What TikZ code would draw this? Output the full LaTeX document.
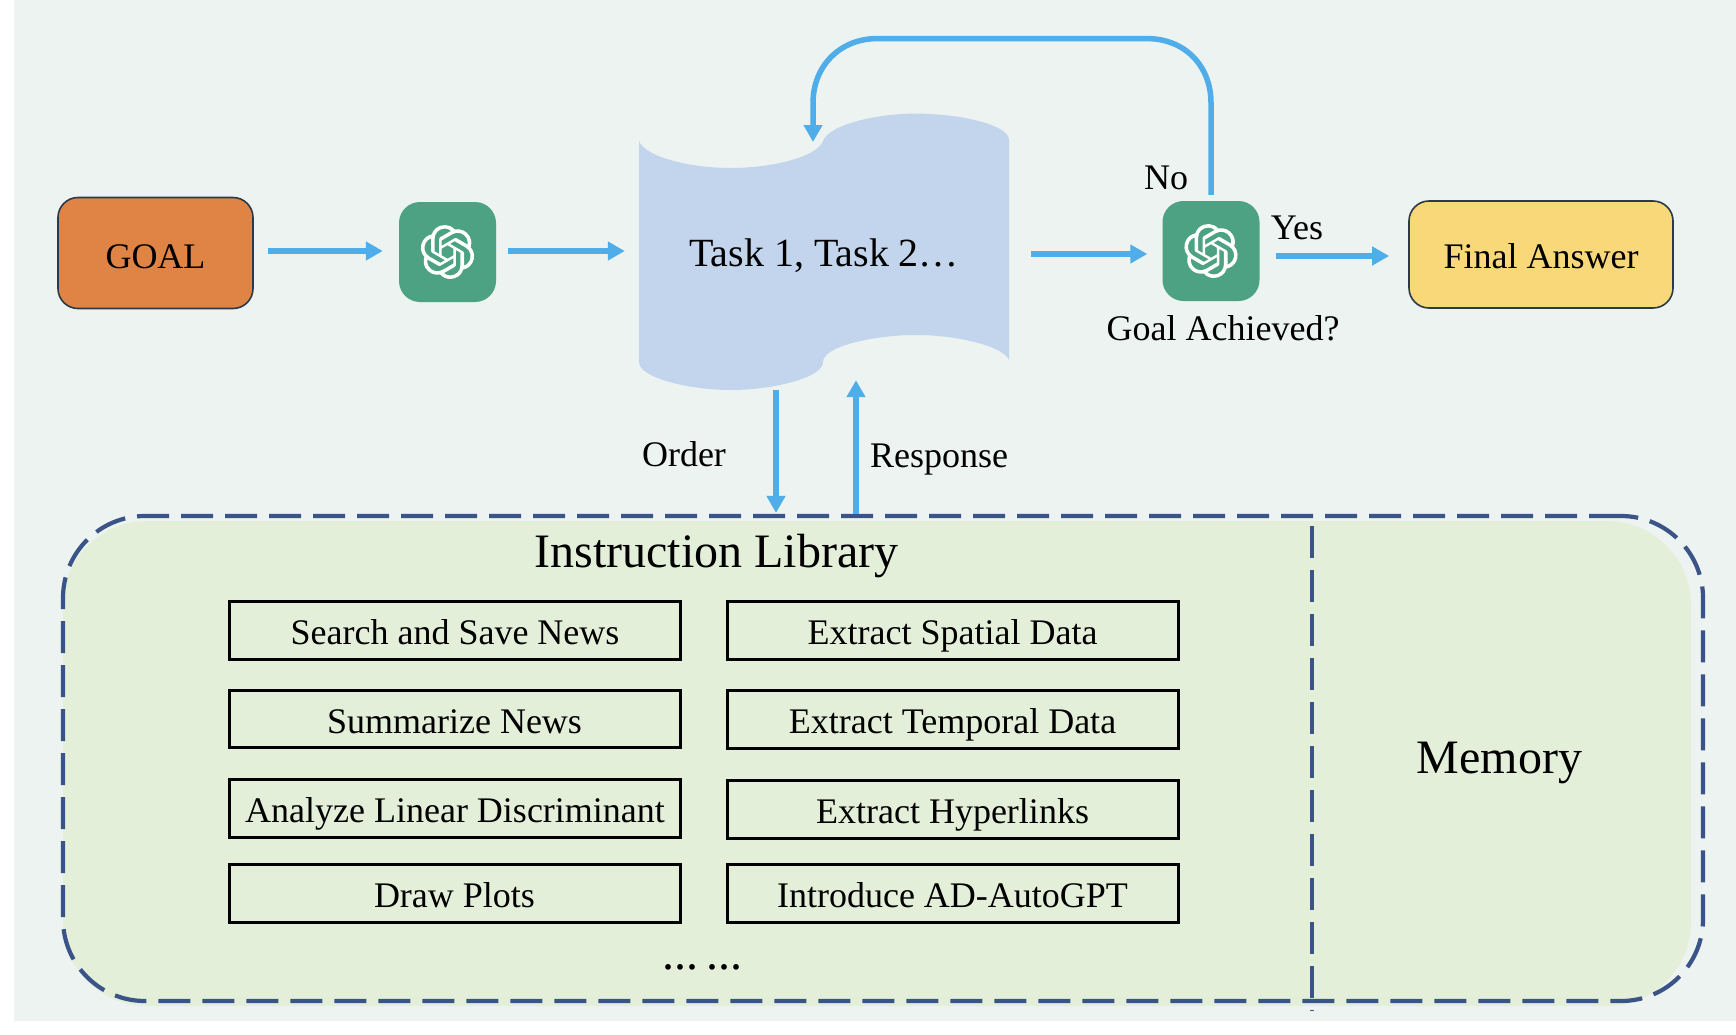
\documentclass[tikz,border=0pt]{standalone}
\usepackage{fontspec}
\setmainfont{Liberation Serif}
\usetikzlibrary{arrows.meta,svg.path}
\definecolor{pagebg}{HTML}{ECF3F1}
\definecolor{libfill}{HTML}{E4EFDA}
\definecolor{scrollfill}{HTML}{C2D5EC}
\definecolor{goalfill}{HTML}{DF8444}
\definecolor{iconfill}{HTML}{4CA283}
\definecolor{finalfill}{HTML}{F8D878}
\definecolor{arrowblue}{HTML}{4FADEA}
\definecolor{dashblue}{HTML}{3A5488}
\definecolor{edgedark}{HTML}{2B3A4A}
\tikzset{
  arr/.style={draw=arrowblue,line width=5.5pt,-{Triangle[length=17pt,width=18pt]}},
  endbox/.style={draw=edgedark,line width=1.6pt,rounded corners=20pt,text=black,font=\fontsize{36}{40}\selectfont},
  iconbox/.style={fill=iconfill,rounded corners=21pt,minimum width=97pt,minimum height=100pt,inner sep=0pt},
  libbox/.style={draw=black,line width=3pt,minimum width=451pt,minimum height=57.5pt,inner sep=0pt,text height=36pt,text depth=8pt,font=\fontsize{36}{40}\selectfont},
  lbl/.style={font=\fontsize{36}{40}\selectfont,inner sep=0pt},
  big/.style={font=\fontsize{48}{52}\selectfont,inner sep=0pt},
  libdash/.style={draw=dashblue,line width=4.2pt,dash pattern=on 32pt off 12pt},
  gptlogo/.pic={
    \fill[white,even odd rule,xscale=2.25,yscale=-2.25,shift={(-12pt,-12pt)}] svg {M 22.2819 9.8211 a 5.9847 5.9847 0 0 0 -0.5157 -4.9108 a 6.0462 6.0462 0 0 0 -6.5098 -2.9 A 6.0651 6.0651 0 0 0 4.9807 4.1818 a 5.9847 5.9847 0 0 0 -3.9977 2.9 a 6.0462 6.0462 0 0 0 0.7427 7.0966 a 5.98 5.98 0 0 0 0.511 4.9107 a 6.051 6.051 0 0 0 6.5146 2.9001 A 5.9847 5.9847 0 0 0 13.2599 24 a 6.0557 6.0557 0 0 0 5.7718 -4.2058 a 5.9894 5.9894 0 0 0 3.9977 -2.9001 a 6.0557 6.0557 0 0 0 -0.7475 -7.0729 Z
    M 13.2599 22.4292 a 4.4755 4.4755 0 0 1 -2.8764 -1.0408 l 0.1419 -0.0804 l 4.7783 -2.7582 l 0.3927 -0.6813 v -6.7369 l 2.02 1.1686 l 0.038 0.052 v 5.5826 a 4.504 4.504 0 0 1 -4.4945 4.4944 Z
    M 3.5992 18.3038 a 4.4708 4.4708 0 0 1 -0.5346 -3.0137 l 0.142 0.0852 l 4.783 2.7582 l 0.7806 0 l 5.8428 -3.3685 v 2.3324 l -0.0332 0.0615 L 9.74 19.9502 a 4.4992 4.4992 0 0 1 -6.1408 -1.6464 Z
    M 2.3408 7.8956 a 4.485 4.485 0 0 1 2.3655 -1.9728 V 11.6 l 0.3879 0.6765 l 5.8144 3.3543 l -2.0201 1.1685 l -0.071 0 l -4.8303 -2.7865 A 4.504 4.504 0 0 1 2.3408 7.872 Z
    M 18.9371 11.7514 L 13.1038 8.364 L 15.1192 7.2 l 0.071 0 l 4.8303 2.7913 a 4.4944 4.4944 0 0 1 -0.6765 8.1042 v -5.6772 l -0.407 -0.667 Z
    M 20.9478 8.7283 l -0.142 -0.0852 l -4.7735 -2.7818 l -0.7854 0 L 9.409 9.2297 V 6.8974 l 0.0284 -0.0615 l 4.8303 -2.7866 a 4.4992 4.4992 0 0 1 6.6802 4.66 Z
    M 8.3065 12.863 l -2.02 -1.1638 l -0.038 -0.0567 V 6.0742 a 4.4992 4.4992 0 0 1 7.3757 -3.4537 l -0.142 0.0805 L 8.704 5.459 l -0.3927 0.6813 Z
    M 9.4041 10.4976 l 2.602 -1.4998 l 2.6069 1.4998 v 2.9994 l -2.5974 1.4997 l -2.6067 -1.4997 Z};
  }
}
\begin{document}
\begin{tikzpicture}[x=1pt,y=-1pt]
\useasboundingbox (0,0) rectangle (1736,1034);
\fill[white] (0,0) rectangle (1736,1034);
\fill[pagebg] (14,0) rectangle (1736,1021);
% library background
\fill[libfill,rounded corners=84pt] (63,521) rectangle (1691,1006);
\node[libdash,rounded corners=82pt,minimum width=1640pt,minimum height=485pt,inner sep=0pt] (lib) at (883,758.5) {};
\coordinate (divtop) at (1312,526);
\coordinate (divbot) at (1312,1011);
\draw[libdash] (divtop) -- (divbot);
% scroll
\fill[scrollfill] (639,141) .. controls (645,157) and (690,168) .. (731,168) .. controls (772,168) and (817,157) .. (823,141)
  .. controls (829,125) and (875,113.6) .. (916,113.6) .. controls (957,113.6) and (1009,124) .. (1009,140)
  -- (1009,360) .. controls (1003,346) and (957,335) .. (916,335) .. controls (875,335) and (823,346) .. (823,362)
  .. controls (823,378) and (772,390) .. (731,390) .. controls (690,390) and (639,378) .. (639,362) -- cycle;
\node[minimum width=370pt,minimum height=276pt,inner sep=0pt,font=\fontsize{40}{44}\selectfont] (scroll) at (824,256) {Task 1, Task 2…};
% top row
\node[endbox,fill=goalfill,minimum width=195pt,minimum height=111pt,text height=30pt,text depth=0pt] (goal) at (155.5,253) {GOAL};
\node[iconbox] (icona) at (447.5,252) {};
\pic at (icona.center) {gptlogo};
\node[iconbox] (iconb) at (1211,251) {};
\pic at (iconb.center) {gptlogo};
\node[endbox,fill=finalfill,minimum width=264pt,minimum height=107pt,text height=28.5pt,text depth=0pt] (final) at (1541,254.5) {Final Answer};
% connectors
\draw[arr] ([shift={(14.5pt,2pt)}]goal.east) -- ([shift={(-16pt,1pt)}]icona.west);
\draw[arr] ([shift={(12pt,1pt)}]icona.east) -- ([shift={(-14pt,5pt)}]scroll.west);
\draw[arr] ([shift={(22pt,2pt)}]scroll.east) -- ([shift={(-15pt,-3pt)}]iconb.west);
\draw[arr] ([shift={(16pt,-5pt)}]iconb.east) -- ([shift={(-19pt,-1.5pt)}]final.west);
\coordinate (loopa) at (1211,103);
\coordinate (loopb) at (813,103);
\coordinate (looptip) at (813,142);
\draw[arr] ([yshift=6pt]iconb.north) -- (loopa) .. controls (1211,66) and (1185,38.6) .. (1147,38.6) -- (877,38.6) .. controls (840,38.6) and (813,66) .. (loopb) -- (looptip);
\draw[arr] ([xshift=-48pt,yshift=4pt]scroll.south) -- ([xshift=-107pt,yshift=1pt]lib.north);
\draw[arr] ([xshift=-27pt]lib.north) -- ([xshift=32pt,yshift=14pt]scroll.south);
% labels
\node[lbl] (no) at (1166,178) {No};
\node[lbl] (yes) at (1297,228) {Yes};
\node[lbl] (achieved) at (1223,328) {Goal Achieved?};
\node[lbl] (order) at (684,454) {Order};
\node[lbl] (response) at (939,460) {Response};
\node[big] (libtitle) at (716.5,556.5) {Instruction Library};
\node[big] (memory) at (1499.5,762.5) {Memory};
\node[font=\fontsize{48}{52}\selectfont,inner sep=0pt,anchor=base] (dots) at (702.5,969) {...\kern-3pt\ ...};
% library boxes
\node[libbox] (b1) at (455,630.5) {Search and Save News};
\node[libbox] (b2) at (454.5,719) {Summarize News};
\node[libbox] (b3) at (455,808.5) {Analyze Linear Discriminant};
\node[libbox] (b4) at (454.5,893.5) {Draw Plots};
\node[libbox] (c1) at (952.5,630.5) {Extract Spatial Data};
\node[libbox] (c2) at (952.5,719.5) {Extract Temporal Data};
\node[libbox] (c3) at (952.5,809.5) {Extract Hyperlinks};
\node[libbox] (c4) at (952.5,893.5) {Introduce AD-AutoGPT};
\end{tikzpicture}
\end{document}
